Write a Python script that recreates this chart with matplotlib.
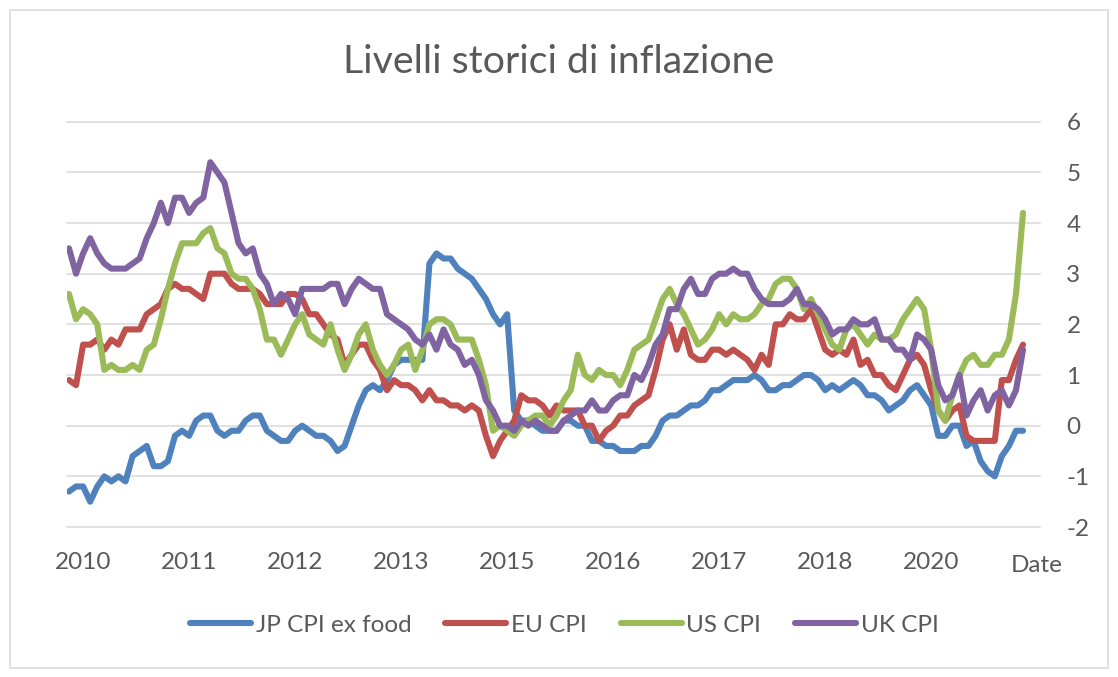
import numpy as np
import pandas as pd
import matplotlib
matplotlib.use("Agg")
import matplotlib.pyplot as plt
from matplotlib.patches import Rectangle

plt.rcParams['font.family'] = ['Lato', 'DejaVu Sans']
plt.rcParams['axes.unicode_minus'] = False

# monthly data, Jan 2010 - Apr 2021
months = pd.date_range('2010-01-01', periods=136, freq='MS')

jp_cpi = [-1.3, -1.2, -1.2, -1.5, -1.2, -1.0, -1.1, -1.0, -1.1, -0.6, -0.5, -0.4,
          -0.8, -0.8, -0.7, -0.2, -0.1, -0.2, 0.1, 0.2, 0.2, -0.1, -0.2, -0.1,
          -0.1, 0.1, 0.2, 0.2, -0.1, -0.2, -0.3, -0.3, -0.1, 0.0, -0.1, -0.2,
          -0.2, -0.3, -0.5, -0.4, 0.0, 0.4, 0.7, 0.8, 0.7, 0.9, 1.2, 1.3,
          1.3, 1.3, 1.3, 3.2, 3.4, 3.3, 3.3, 3.1, 3.0, 2.9, 2.7, 2.5,
          2.2, 2.0, 2.2, 0.3, 0.1, 0.1, 0.0, -0.1, -0.1, -0.1, 0.1, 0.1,
          0.0, 0.0, -0.3, -0.3, -0.4, -0.4, -0.5, -0.5, -0.5, -0.4, -0.4, -0.2,
          0.1, 0.2, 0.2, 0.3, 0.4, 0.4, 0.5, 0.7, 0.7, 0.8, 0.9, 0.9,
          0.9, 1.0, 0.9, 0.7, 0.7, 0.8, 0.8, 0.9, 1.0, 1.0, 0.9, 0.7,
          0.8, 0.7, 0.8, 0.9, 0.8, 0.6, 0.6, 0.5, 0.3, 0.4, 0.5, 0.7,
          0.8, 0.6, 0.4, -0.2, -0.2, 0.0, 0.0, -0.4, -0.3, -0.7, -0.9, -1.0,
          -0.6, -0.4, -0.1, -0.1]

eu_cpi = [0.9, 0.8, 1.6, 1.6, 1.7, 1.5, 1.7, 1.6, 1.9, 1.9, 1.9, 2.2,
          2.3, 2.4, 2.7, 2.8, 2.7, 2.7, 2.6, 2.5, 3.0, 3.0, 3.0, 2.8,
          2.7, 2.7, 2.7, 2.6, 2.4, 2.4, 2.4, 2.6, 2.6, 2.5, 2.2, 2.2,
          2.0, 1.8, 1.7, 1.2, 1.4, 1.6, 1.6, 1.3, 1.1, 0.7, 0.9, 0.8,
          0.8, 0.7, 0.5, 0.7, 0.5, 0.5, 0.4, 0.4, 0.3, 0.4, 0.3, -0.2,
          -0.6, -0.3, -0.1, 0.1, 0.6, 0.5, 0.5, 0.4, 0.2, 0.4, 0.3, 0.3,
          0.3, 0.0, 0.0, -0.3, -0.1, 0.0, 0.2, 0.2, 0.4, 0.5, 0.6, 1.1,
          1.7, 2.0, 1.5, 1.9, 1.4, 1.3, 1.3, 1.5, 1.5, 1.4, 1.5, 1.4,
          1.3, 1.1, 1.4, 1.2, 2.0, 2.0, 2.2, 2.1, 2.1, 2.3, 1.9, 1.5,
          1.4, 1.5, 1.4, 1.7, 1.2, 1.3, 1.0, 1.0, 0.8, 0.7, 1.0, 1.3,
          1.4, 1.2, 0.7, 0.3, 0.1, 0.3, 0.4, -0.2, -0.3, -0.3, -0.3, -0.3,
          0.9, 0.9, 1.3, 1.6]

us_cpi = [2.6, 2.1, 2.3, 2.2, 2.0, 1.1, 1.2, 1.1, 1.1, 1.2, 1.1, 1.5,
          1.6, 2.1, 2.7, 3.2, 3.6, 3.6, 3.6, 3.8, 3.9, 3.5, 3.4, 3.0,
          2.9, 2.9, 2.7, 2.3, 1.7, 1.7, 1.4, 1.7, 2.0, 2.2, 1.8, 1.7,
          1.6, 2.0, 1.5, 1.1, 1.4, 1.8, 2.0, 1.5, 1.2, 1.0, 1.2, 1.5,
          1.6, 1.1, 1.5, 2.0, 2.1, 2.1, 2.0, 1.7, 1.7, 1.7, 1.3, 0.8,
          -0.1, 0.0, -0.1, -0.2, 0.0, 0.1, 0.2, 0.2, 0.0, 0.2, 0.5, 0.7,
          1.4, 1.0, 0.9, 1.1, 1.0, 1.0, 0.8, 1.1, 1.5, 1.6, 1.7, 2.1,
          2.5, 2.7, 2.4, 2.2, 1.9, 1.6, 1.7, 1.9, 2.2, 2.0, 2.2, 2.1,
          2.1, 2.2, 2.4, 2.5, 2.8, 2.9, 2.9, 2.7, 2.3, 2.5, 2.2, 1.9,
          1.6, 1.5, 1.9, 2.0, 1.8, 1.6, 1.8, 1.7, 1.7, 1.8, 2.1, 2.3,
          2.5, 2.3, 1.5, 0.3, 0.1, 0.6, 1.0, 1.3, 1.4, 1.2, 1.2, 1.4,
          1.4, 1.7, 2.6, 4.2]

uk_cpi = [3.5, 3.0, 3.4, 3.7, 3.4, 3.2, 3.1, 3.1, 3.1, 3.2, 3.3, 3.7,
          4.0, 4.4, 4.0, 4.5, 4.5, 4.2, 4.4, 4.5, 5.2, 5.0, 4.8, 4.2,
          3.6, 3.4, 3.5, 3.0, 2.8, 2.4, 2.6, 2.5, 2.2, 2.7, 2.7, 2.7,
          2.7, 2.8, 2.8, 2.4, 2.7, 2.9, 2.8, 2.7, 2.7, 2.2, 2.1, 2.0,
          1.9, 1.7, 1.6, 1.8, 1.5, 1.9, 1.6, 1.5, 1.2, 1.3, 1.0, 0.5,
          0.3, 0.0, 0.0, -0.1, 0.1, 0.0, 0.1, 0.0, -0.1, -0.1, 0.1, 0.2,
          0.3, 0.3, 0.5, 0.3, 0.3, 0.5, 0.6, 0.6, 1.0, 0.9, 1.2, 1.6,
          1.8, 2.3, 2.3, 2.7, 2.9, 2.6, 2.6, 2.9, 3.0, 3.0, 3.1, 3.0,
          3.0, 2.7, 2.5, 2.4, 2.4, 2.4, 2.5, 2.7, 2.4, 2.4, 2.3, 2.1,
          1.8, 1.9, 1.9, 2.1, 2.0, 2.0, 2.1, 1.7, 1.7, 1.5, 1.5, 1.3,
          1.8, 1.7, 1.5, 0.8, 0.5, 0.6, 1.0, 0.2, 0.5, 0.7, 0.3, 0.6,
          0.7, 0.4, 0.7, 1.5]

series_names = ['JP CPI ex food', 'EU CPI', 'US CPI', 'UK CPI']
colors = ['#4F81BD', '#C0504D', '#9BBB59', '#8064A2']
y_ticks = [-2, -1, 0, 1, 2, 3, 4, 5, 6]

# a year label every 15 months, as excel does on this axis
tick_idx = list(range(2, len(months), 15))
tick_labels = [str(months[i].year) for i in tick_idx]

W, H = 1118, 677
fig = plt.figure(figsize=(W / 100, H / 100), dpi=100)
ax = fig.add_axes([67 / W, 1 - 527 / H, (1040 - 67) / W, (527 - 121.7) / H])

x = np.arange(len(months))
for vals, name, c in zip([jp_cpi, eu_cpi, us_cpi, uk_cpi], series_names, colors):
    ax.plot(x, vals, color=c, lw=4.4, label=name,
            solid_joinstyle='round', solid_capstyle='round')

ax.set_xlim(-0.28, 137.4)
ax.set_ylim(-2, 6)
ax.set_yticks(y_ticks)
ax.set_xticks(tick_idx)
ax.set_xticklabels(tick_labels)
ax.yaxis.tick_right()
for s in ax.spines.values():
    s.set_visible(False)
ax.grid(axis='y', color='#D9D9D9', lw=1.1)
for gl in ax.get_ygridlines():
    gl.set_clip_on(False)
ax.set_axisbelow(True)
ax.tick_params(axis='x', length=0, pad=18, labelsize=17.5, labelcolor='#595959')
ax.tick_params(axis='y', length=0, pad=19, labelsize=17.5, labelcolor='#595959')

fig.text(1037 / W, 1 - 572 / H, 'Date', ha='center', va='baseline',
         fontsize=17.5, color='#595959')
fig.text(0.5, 1 - 73 / H, 'Livelli storici di inflazione', ha='center',
         va='baseline', fontsize=28.3, color='#595959')

fig.legend(loc='center', bbox_to_anchor=(564.5 / W, 1 - 625 / H), ncol=4,
           frameon=False, fontsize=17.5, handlelength=2.5, handletextpad=0.2,
           columnspacing=1.4, labelcolor='#595959')

fig.patches.append(Rectangle((9.5 / W, 1 - 668 / H), (1108 - 9.5) / W, (668 - 9.5) / H,
                             transform=fig.transFigure, fill=False,
                             ec='#D9D9D9', lw=1.1))

fig.savefig('out.png', dpi=100)
